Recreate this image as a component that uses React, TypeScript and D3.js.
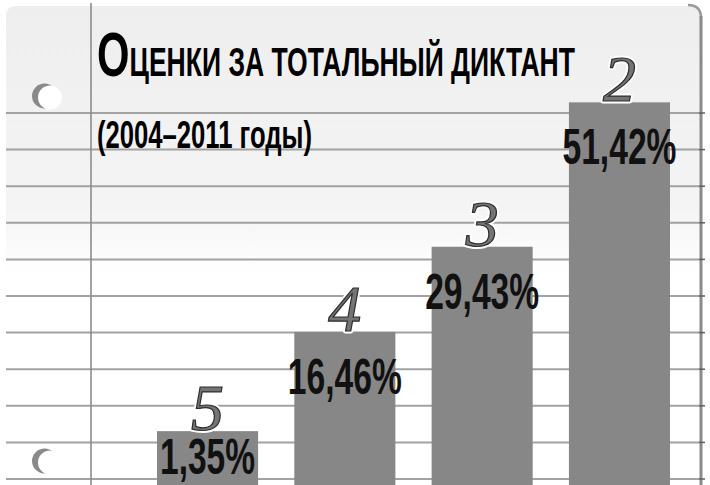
import React from "react";
import * as d3 from "d3";

// Оценки за тотальный диктант, 2004–2011
const GRADES = ["5", "4", "3", "2"];
const SHARES = [1.35, 16.46, 29.43, 51.42];

const TITLE_CAP = "О";
const TITLE_REST = "ЦЕНКИ ЗА ТОТАЛЬНЫЙ ДИКТАНТ";
const SUBTITLE = "(2004–2011 годы)";

const W = 710;
const H = 485;

const fmtShare = (v: number) => d3.format(".2f")(v).replace(".", ",") + "%";

export default function App() {
  const x = d3
    .scaleBand<string>()
    .domain(GRADES)
    .range([157, 670])
    .paddingInner(0.264)
    .paddingOuter(0);

  const y = d3.scaleLinear().domain([0, 60]).range([440, 46]);

  // ruled notebook lines
  const rules = d3.range(113, H, 36.6);

  const sansBold = '"Liberation Sans Narrow", "Liberation Sans", Arial, sans-serif';
  const serifItalic = '"Liberation Serif", "DejaVu Serif", serif';

  const data = GRADES.map((g, i) => ({ grade: g, share: SHARES[i] }));

  return (
    <svg
      width={W}
      height={H}
      viewBox={`0 0 ${W} ${H}`}
      style={{ position: "absolute", left: 0, top: 0, display: "block" }}
    >
      <defs>
        <linearGradient id="paper" x1="0" y1="0" x2="0" y2="1">
          <stop offset="0" stopColor="#eeeeee" />
          <stop offset="0.42" stopColor="#f4f4f4" />
          <stop offset="0.56" stopColor="#ffffff" />
          <stop offset="1" stopColor="#ffffff" />
        </linearGradient>
      </defs>

      <rect width={W} height={H} fill="#ffffff" />

      {/* sheet of paper */}
      <path
        d={`M6,${H} L6,16 Q6,6 16,6 L689,6 Q700,6 700,17 L700,${H} Z`}
        fill="url(#paper)"
      />
      {/* right edge thickness */}
      <path d="M688,5 Q701,5 701,18" fill="none" stroke="#9a9a9a" strokeWidth={2.5} />
      <rect x={699.5} y={16} width={3} height={H - 16} fill="#8a8a8a" />

      {/* ruling */}
      {rules.map((r, i) => (
        <g key={i}>
          <line x1={6} x2={699} y1={r} y2={r} stroke="#a2a2a2" strokeWidth={2} />
          <line x1={699} x2={705} y1={r} y2={r} stroke="#5e5e5e" strokeWidth={1.5} />
        </g>
      ))}

      {/* margin line */}
      <line x1={91} x2={91} y1={3} y2={H} stroke="#8c8c8c" strokeWidth={1.6} />

      {/* punched holes */}
      {[97, 462].map((cy) => (
        <g key={cy}>
          <circle cx={44.5} cy={cy - 1} r={12.5} fill="#8a8a8a" />
          <circle cx={50} cy={cy + 0.5} r={12} fill="#ffffff" />
        </g>
      ))}

      {/* title */}
      <text
        x={97}
        y={76}
        fontFamily={sansBold}
        fontWeight="bold"
        fill="#000"
        textLength={478}
        lengthAdjust="spacingAndGlyphs"
      >
        <tspan fontSize={63}>{TITLE_CAP}</tspan>
        <tspan fontSize={40}>{TITLE_REST}</tspan>
      </text>
      <text
        x={97}
        y={148}
        fontFamily={sansBold}
        fontWeight="bold"
        fontSize={38}
        fill="#000"
        textLength={215}
        lengthAdjust="spacingAndGlyphs"
      >
        {SUBTITLE}
      </text>

      {/* bars */}
      {data.map((d) => (
        <rect
          key={d.grade}
          x={x(d.grade)}
          y={y(d.share)}
          width={x.bandwidth()}
          height={H - y(d.share)}
          fill="#878787"
        />
      ))}

      {/* grade numerals */}
      {data.map((d) => {
        const cx = (x(d.grade) ?? 0) + x.bandwidth() / 2;
        const by = y(d.share) - 1;
        return (
          <g key={d.grade} fontFamily={serifItalic} fontStyle="italic" fontSize={66} textAnchor="middle">
            <text x={cx} y={by} fill="none" stroke="#ffffff" strokeWidth={5} strokeLinejoin="round">
              {d.grade}
            </text>
            <text x={cx} y={by} fill="#747474" stroke="#2e2e2e" strokeWidth={1.2}>
              {d.grade}
            </text>
          </g>
        );
      })}

      {/* share labels */}
      {data.map((d) => {
        const cx = (x(d.grade) ?? 0) + x.bandwidth() / 2;
        const label = fmtShare(d.share);
        const by = Math.min(y(d.share) + 62, 474);
        return (
          <text
            key={d.grade}
            x={cx}
            y={by}
            textAnchor="middle"
            fontFamily={sansBold}
            fontWeight="bold"
            fontSize={50}
            fill="#111"
            textLength={label.length * 19}
            lengthAdjust="spacingAndGlyphs"
          >
            {label}
          </text>
        );
      })}
    </svg>
  );
}
